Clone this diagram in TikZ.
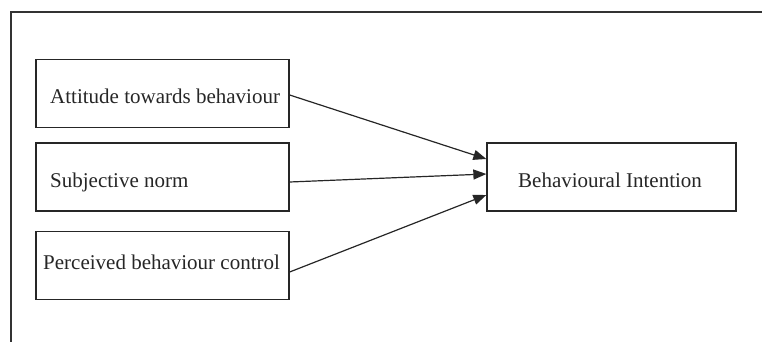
\documentclass[tikz,border=0pt]{standalone}
\usepackage{fontspec}
\setmainfont{Liberation Serif}
\usetikzlibrary{arrows.meta}
\begin{document}
\begin{tikzpicture}[x=1pt,y=-1pt,
  box/.style={draw=black!85, line width=1.3pt, rectangle, minimum width=253pt, minimum height=68pt, inner sep=0pt},
  bibox/.style={draw=black!85, line width=1.3pt, rectangle, minimum width=249pt, minimum height=68pt, inner sep=0pt},
  lbl/.style={anchor=base west, inner sep=0pt, font=\fontsize{21}{25}\selectfont, text=black!85},
  arr/.style={draw=black!85, line width=1.2pt, -{Triangle[length=13pt,width=10pt]}},
  frame/.style={draw=black!80, line width=1.5pt}]
\useasboundingbox (0,0) rectangle (762,342);
\coordinate (ftl) at (11,12);
\coordinate (ftr) at (762,12);
\coordinate (fbl) at (11,342);
\draw[frame] (ftr) -- (ftl) -- (fbl);
\node[box] (att) at (162.5,93.5) {};
\node[box] (sub) at (162.5,177) {};
\node[box] (pbc) at (162.5,265.5) {};
\node[bibox] (bi) at (611.5,177) {};
\node[lbl] (tatt) at (50,104) {Attitude towards behaviour};
\node[lbl] (tsub) at (50,187) {Subjective norm};
\node[lbl] (tpbc) at (43,269) {Perceived behaviour control};
\node[lbl] (tbi) at (518,187) {Behavioural Intention};
\coordinate (s1) at (att.east |- 0,95);
\coordinate (s2) at (sub.east |- 0,182);
\coordinate (s3) at (pbc.east |- 0,272);
\coordinate (e1) at (bi.west |- 0,159);
\coordinate (e2) at (bi.west |- 0,174);
\coordinate (e3) at (bi.west |- 0,195);
\draw[arr] (s1) -- (e1);
\draw[arr] (s2) -- (e2);
\draw[arr] (s3) -- (e3);
\end{tikzpicture}
\end{document}
